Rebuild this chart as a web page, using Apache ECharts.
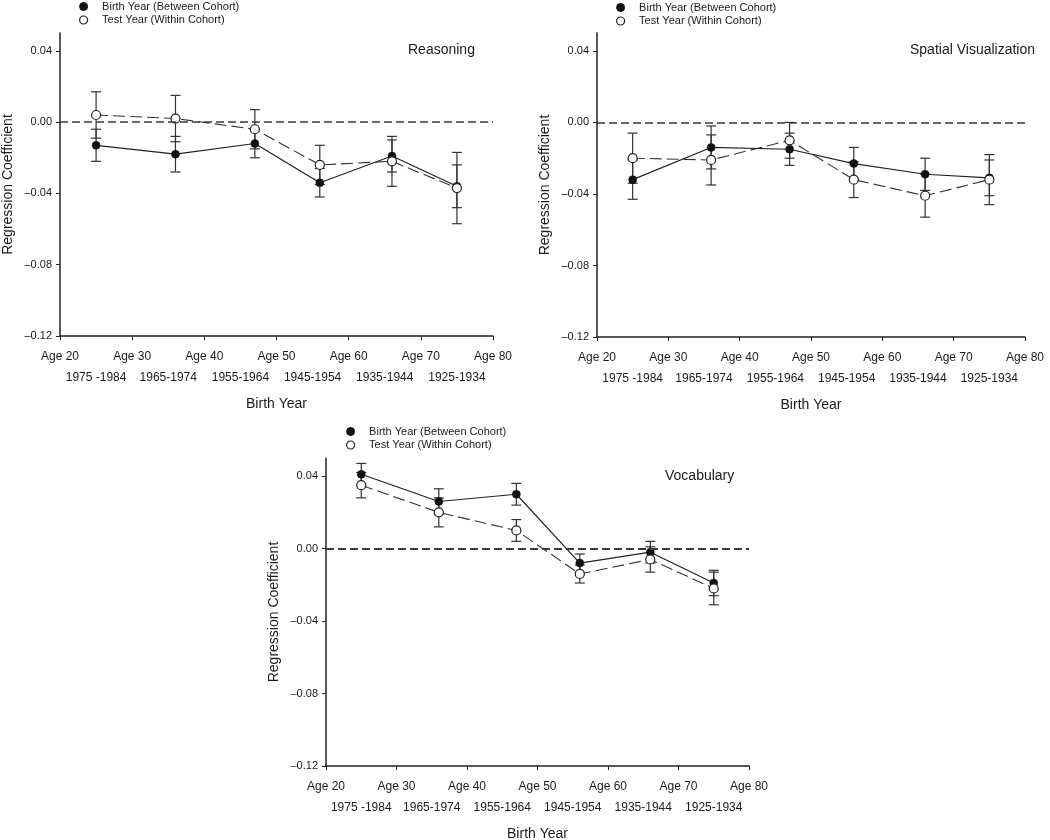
<!DOCTYPE html>
<html>
<head>
<meta charset="utf-8">
<script src="https://cdn.jsdelivr.net/npm/echarts@6/dist/echarts.min.js"></script>
<style>
html, body { margin: 0; padding: 0; background: #fff; }
#chart { width: 1050px; height: 840px; }
</style>
</head>
<body>
<div id="chart"></div>
<script>
// ---------------- data ----------------
const ages = [25, 36, 47, 56, 66, 75];
const cohortLabels = ['1975 -1984', '1965-1974', '1955-1964', '1945-1954', '1935-1944', '1925-1934'];
const cohortLabelAges = [25, 35, 45, 55, 65, 75];
const yTicks = [-0.12, -0.08, -0.04, 0, 0.04];

const panelTitles = ['Reasoning', 'Spatial Visualization', 'Vocabulary'];
const nameBirth = 'Birth Year (Between Cohort)';
const nameTest = 'Test Year (Within Cohort)';

const reasoningBirth    = [-0.013, -0.018, -0.012, -0.034, -0.019, -0.036];
const reasoningBirthErr = [ 0.009,  0.010,  0.008,  0.008,  0.009,  0.012];
const reasoningTest     = [ 0.004,  0.002, -0.004, -0.024, -0.022, -0.037];
const reasoningTestErr  = [ 0.013,  0.013,  0.011,  0.011,  0.014,  0.020];

const spatialBirth    = [-0.032, -0.014, -0.015, -0.023, -0.029, -0.031];
const spatialBirthErr = [ 0.011,  0.012,  0.009,  0.009,  0.009,  0.010];
const spatialTest     = [-0.020, -0.021, -0.010, -0.032, -0.041, -0.032];
const spatialTestErr  = [ 0.014,  0.014,  0.010,  0.010,  0.012,  0.014];

const vocabBirth    = [0.041, 0.026, 0.030, -0.008, -0.002, -0.019];
const vocabBirthErr = [0.006, 0.007, 0.006,  0.005,  0.006,  0.007];
const vocabTest     = [0.035, 0.020, 0.010, -0.014, -0.006, -0.022];
const vocabTestErr  = [0.007, 0.008, 0.006,  0.005,  0.007,  0.009];

// ---------------- layout / styles ----------------
const FONT = '"Liberation Sans", Arial, Helvetica, sans-serif';
const TXT = '#1a1a1a';

const panels = [
  { title: panelTitles[0], birth: reasoningBirth, birthErr: reasoningBirthErr, test: reasoningTest, testErr: reasoningTestErr,
    grid: { left: 60, top: 33, width: 433, height: 303 },
    titlePos: { left: 408, top: 43 }, legendPos: { left: 79, top: 1 }, zeroWidth: 1.5 },
  { title: panelTitles[1], birth: spatialBirth, birthErr: spatialBirthErr, test: spatialTest, testErr: spatialTestErr,
    grid: { left: 597, top: 33, width: 428, height: 304 },
    titlePos: { left: 910, top: 43 }, legendPos: { left: 616, top: 2 }, zeroWidth: 1.5 },
  { title: panelTitles[2], birth: vocabBirth, birthErr: vocabBirthErr, test: vocabTest, testErr: vocabTestErr,
    grid: { left: 326, top: 458, width: 423, height: 308 },
    titlePos: { left: 665, top: 469 }, legendPos: { left: 346, top: 426 }, zeroWidth: 2 }
];

function errRender(color) {
  return function (params, api) {
    const x = api.value(0), lo = api.value(1), hi = api.value(2);
    const p1 = api.coord([x, hi]);
    const p2 = api.coord([x, lo]);
    const w = 5;
    const st = { stroke: color, lineWidth: 1.2 };
    return {
      type: 'group',
      children: [
        { type: 'line', shape: { x1: p1[0], y1: p1[1], x2: p2[0], y2: p2[1] }, style: st },
        { type: 'line', shape: { x1: p1[0] - w, y1: p1[1], x2: p1[0] + w, y2: p1[1] }, style: st },
        { type: 'line', shape: { x1: p2[0] - w, y1: p2[1], x2: p2[0] + w, y2: p2[1] }, style: st }
      ]
    };
  };
}

function fmtY(v) {
  const s = Math.abs(v).toFixed(2);
  return v < -1e-9 ? '\u2013' + s : s;
}

const option = {
  animation: false,
  backgroundColor: '#fff',
  textStyle: { fontFamily: FONT, color: TXT },
  title: [],
  legend: [],
  grid: [],
  xAxis: [],
  yAxis: [],
  series: []
};

panels.forEach((p, i) => {
  option.grid.push(Object.assign({ outerBoundsMode: 'none', containLabel: false }, p.grid));

  option.title.push({
    text: p.title, left: p.titlePos.left, top: p.titlePos.top, padding: 0,
    textStyle: { fontSize: 14, fontWeight: 'normal', color: TXT, fontFamily: FONT }
  });

  option.legend.push({
    orient: 'vertical', left: p.legendPos.left, top: p.legendPos.top, padding: 0,
    itemWidth: 27, itemHeight: 8, itemGap: 2.5, icon: 'circle', selectedMode: false,
    textStyle: { fontSize: 11, color: TXT, fontFamily: FONT },
    data: [
      { name: nameBirth, itemStyle: { color: '#111', borderColor: '#111', borderWidth: 1 } },
      { name: nameTest, itemStyle: { color: '#fff', borderColor: '#222', borderWidth: 1.2 } }
    ]
  });

  // main x axis (ages)
  option.xAxis.push({
    type: 'value', gridIndex: i, min: 20, max: 80, interval: 10, position: 'bottom',
    name: 'Birth Year', nameLocation: 'middle', nameGap: 61,
    nameTextStyle: { fontSize: 14, color: TXT, fontFamily: FONT },
    axisLine: { show: true, onZero: false, lineStyle: { color: '#222', width: 1.5 } },
    axisTick: { show: true, inside: false, length: 4, lineStyle: { color: '#222', width: 1 } },
    splitLine: { show: false },
    axisLabel: { margin: 15, fontSize: 12, color: TXT, fontFamily: FONT, showMinLabel: true, showMaxLabel: true,
      formatter: v => 'Age ' + v }
  });
  // secondary x axis (birth cohort labels)
  option.xAxis.push({
    type: 'value', gridIndex: i, min: 20, max: 80, position: 'bottom', offset: 21,
    axisLine: { show: false, onZero: false },
    axisTick: { show: false },
    splitLine: { show: false },
    axisLabel: { margin: 15, fontSize: 12, color: TXT, fontFamily: FONT, customValues: cohortLabelAges,
      formatter: v => { const k = cohortLabelAges.indexOf(Math.round(v)); return k >= 0 ? cohortLabels[k] : ''; } }
  });

  option.yAxis.push({
    type: 'value', gridIndex: i, min: -0.12, max: 0.05,
    name: 'Regression Coefficient', nameLocation: 'middle', nameRotate: 90, nameGap: 45,
    nameTextStyle: { fontSize: 14, color: TXT, fontFamily: FONT },
    axisLine: { show: true, onZero: false, lineStyle: { color: '#222', width: 1.5 } },
    axisTick: { show: true, inside: false, length: 4, customValues: yTicks, lineStyle: { color: '#222', width: 1 } },
    splitLine: { show: false },
    axisLabel: { margin: 8, fontSize: 11, color: TXT, fontFamily: FONT, customValues: yTicks, formatter: fmtY }
  });

  const xi = i * 2;
  const birthPts = ages.map((a, k) => [a, p.birth[k]]);
  const testPts = ages.map((a, k) => [a, p.test[k]]);
  const birthBars = ages.map((a, k) => [a, p.birth[k] - p.birthErr[k], p.birth[k] + p.birthErr[k]]);
  const testBars = ages.map((a, k) => [a, p.test[k] - p.testErr[k], p.test[k] + p.testErr[k]]);

  option.series.push({
    type: 'custom', name: nameTest + ' error', xAxisIndex: xi, yAxisIndex: i, z: 2,
    renderItem: errRender('#333'), encode: { x: 0, y: [1, 2] }, data: testBars, silent: true
  });
  option.series.push({
    type: 'custom', name: nameBirth + ' error', xAxisIndex: xi, yAxisIndex: i, z: 2,
    renderItem: errRender('#333'), encode: { x: 0, y: [1, 2] }, data: birthBars, silent: true
  });
  option.series.push({
    type: 'line', name: nameBirth, xAxisIndex: xi, yAxisIndex: i, z: 3,
    data: birthPts, symbol: 'circle', symbolSize: 8,
    itemStyle: { color: '#111', borderColor: '#111', borderWidth: 0.5 },
    lineStyle: { color: '#222', width: 1.2, type: 'solid' },
    markLine: {
      silent: true, symbol: ['none', 'none'], label: { show: false },
      lineStyle: { color: '#3a3a3a', width: p.zeroWidth, type: [8, 4] },
      data: [{ yAxis: 0 }]
    }
  });
  option.series.push({
    type: 'line', name: nameTest, xAxisIndex: xi, yAxisIndex: i, z: 4,
    data: testPts, symbol: 'circle', symbolSize: 9,
    itemStyle: { color: '#fff', borderColor: '#222', borderWidth: 1.2 },
    lineStyle: { color: '#333', width: 1.1, type: [12, 5] }
  });
});

const chart = echarts.init(document.getElementById('chart'), null, { renderer: 'canvas' });
chart.setOption(option);
</script>
</body>
</html>
